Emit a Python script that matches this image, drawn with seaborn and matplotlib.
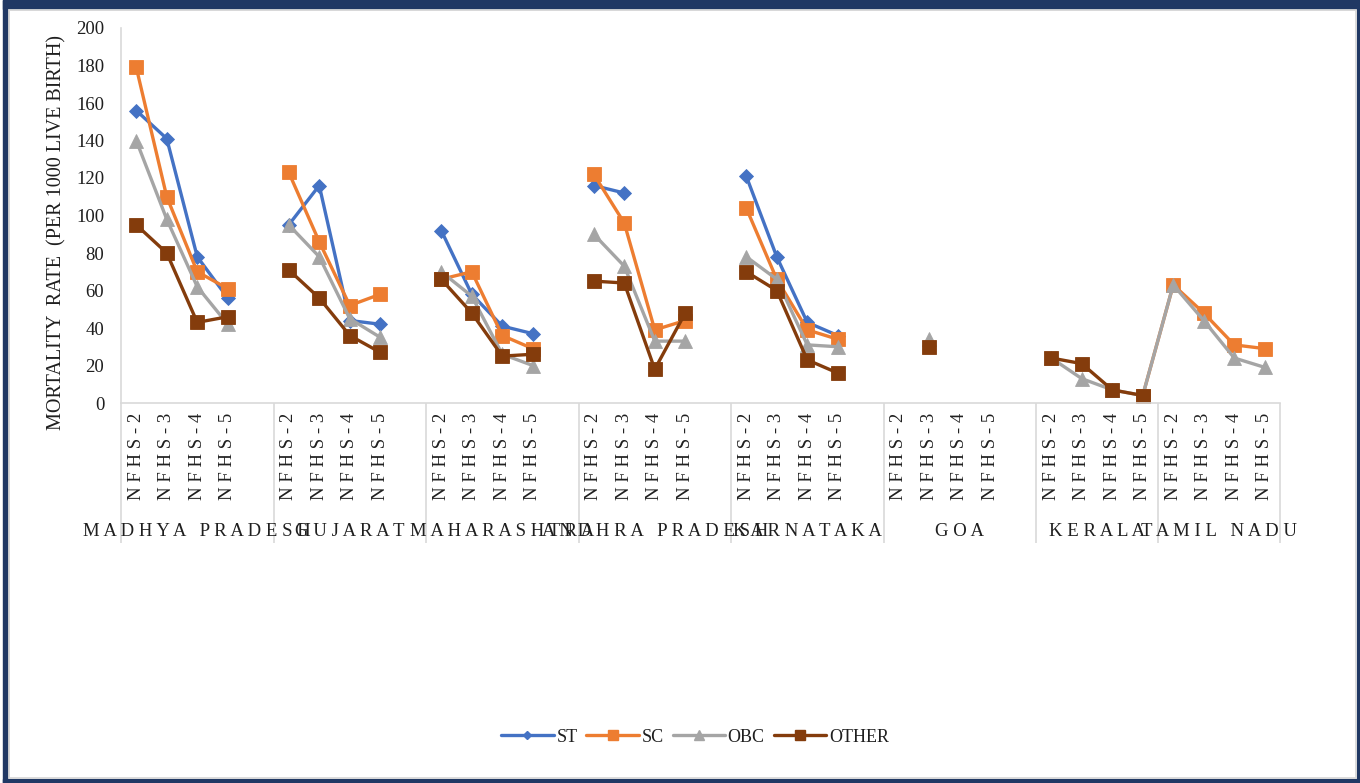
import numpy as np
import pandas as pd
import matplotlib
matplotlib.use("Agg")
import matplotlib.pyplot as plt
from matplotlib.lines import Line2D
from matplotlib.patches import Rectangle
import seaborn as sns

# ---- data -------------------------------------------------------------
states = ["MADHYA PRADESH", "GUJARAT", "MAHARASHTRA", "ANDHRA PRADESH",
          "KARNATAKA", "GOA", "KERALA", "TAMIL NADU"]
rounds = ["NFHS-2", "NFHS-3", "NFHS-4", "NFHS-5"]
nan = np.nan

# values per state, NFHS-2 .. NFHS-5 (per 1000 live births)
st = [156, 141, 78, 56,
      95, 116, 44, 42,
      92, 58, 41, 37,
      116, 112, nan, nan,
      121, 78, 43, 36,
      nan, nan, nan, nan,
      nan, nan, nan, nan,
      nan, nan, nan, nan]
sc = [179, 110, 70, 61,
      123, 86, 52, 58,
      66, 70, 36, 29,
      122, 96, 39, 44,
      104, 66, 39, 34,
      nan, nan, nan, nan,
      nan, nan, nan, 4,
      63, 48, 31, 29]
obc = [140, 98, 62, 42,
       95, 78, 45, 35,
       70, 57, 26, 20,
       90, 73, 33, 33,
       78, 66, 31, 30,
       nan, 34, nan, nan,
       24, 13, 7, 4,
       63, 44, 24, 19]
other = [95, 80, 43, 46,
         71, 56, 36, 27,
         66, 48, 25, 26,
         65, 64, 18, 48,
         70, 60, 23, 16,
         nan, 30, nan, nan,
         24, 21, 7, 4,
         nan, nan, nan, nan]

series_names = ["ST", "SC", "OBC", "OTHER"]
series_values = [st, sc, obc, other]

# ---- styling ----------------------------------------------------------
colors = {"ST": "#4472C4", "SC": "#ED7D31", "OBC": "#A5A5A5", "OTHER": "#843C0C"}
markers = {"ST": "D", "SC": "s", "OBC": "^", "OTHER": "s"}
msizes = {"ST": 6.8, "SC": 10.5, "OBC": 10.5, "OTHER": 10.5}
leg_msizes = {"ST": 4.5, "SC": 7, "OBC": 6.5, "OTHER": 7}
navy = "#203864"
grid_grey = "#D9D9D9"
text_col = "#1f1f1f"

sns.set_theme(style="white")
plt.rcParams["font.family"] = ["Liberation Serif", "DejaVu Serif"]

W, H = 1360, 783
fig = plt.figure(figsize=(W / 100, H / 100), dpi=100)
fig.patch.set_facecolor("white")


def px_rect(x, y_top, w, h, **kw):
    """Rectangle given in pixel units measured from the top-left corner."""
    return Rectangle((x / W, 1 - (y_top + h) / H), w / W, h / H,
                     transform=fig.transFigure, **kw)


# chart frame
for r in [px_rect(3, 0, 1357, 9, color=navy),
          px_rect(3, 0, 5, 783, color=navy),
          px_rect(1357, 0, 3, 783, color=navy),
          px_rect(3, 779, 1357, 4, color=navy)]:
    fig.patches.append(r)
fig.patches.append(px_rect(8.5, 9.5, 1347.5, 768.5, fill=False,
                           edgecolor=grid_grey, lw=1.3))

# ---- category slots: a blank slot follows each state except Kerala ----
spacer = [1, 1, 1, 1, 1, 1, 0, 0]
slots, groups = [], []
pos = 0
for i, s in enumerate(states):
    start = pos
    for r in rounds:
        slots.append(pos)
        pos += 1
    pos += spacer[i]
    groups.append((start, pos))
n_slots = pos

rows = []
for name, vals in zip(series_names, series_values):
    seg = 0
    prev_slot, prev_ok = None, False
    for k, (slot, v) in enumerate(zip(slots, vals)):
        ok = not np.isnan(v)
        if ok and not (prev_ok and prev_slot == slot - 1):
            seg += 1
        if ok:
            rows.append({"series": name, "slot": slot, "value": v, "seg": seg,
                         "state": states[k // 4], "round": rounds[k % 4]})
        prev_slot, prev_ok = slot, ok
df = pd.DataFrame(rows)

left, right, top, bottom = 121, 1280, 28, 403
ax = fig.add_axes([left / W, 1 - bottom / H, (right - left) / W, (bottom - top) / H])

for name in series_names:
    sub = df[df["series"] == name]
    sns.lineplot(data=sub, x="slot", y="value", units="seg", estimator=None,
                 color=colors[name], marker=markers[name], markersize=msizes[name],
                 markeredgecolor=colors[name], markeredgewidth=0.6,
                 linewidth=2.4, legend=False, ax=ax)

ax.set_xlim(-0.5, n_slots - 0.5)
ax.set_ylim(0, 200)
ax.set_yticks(np.arange(0, 201, 20))
ax.set_xlabel("")
ax.set_ylabel("")


def spaced(t):
    return " ".join(t)


ax.set_xticks(slots)
ax.set_xticklabels([spaced(r) for _ in states for r in rounds], rotation=90)
ax.tick_params(axis="x", length=0, pad=7, labelsize=13.5, labelcolor=text_col)
ax.tick_params(axis="y", length=0, pad=12, labelsize=13.5, labelcolor=text_col)

for side in ["top", "right"]:
    ax.spines[side].set_visible(False)
for side in ["left", "bottom"]:
    ax.spines[side].set_color(grid_grey)
    ax.spines[side].set_linewidth(1.2)

# multi-level category axis: separators and state names
xt = ax.get_xaxis_transform()
bounds = [-0.5] + [g[1] - 0.5 for g in groups]
ax.vlines(bounds, -0.373, 0, transform=xt, colors=grid_grey, lw=1.2, clip_on=False)
for s, (g0, g1) in zip(states, groups):
    ax.text((g0 + g1 - 1) / 2, -0.343, spaced(s), transform=xt, ha="center",
            va="center", fontsize=13.5, color=text_col)

fig.text(57 / W, 1 - 232 / H, "MORTALITY  RATE  (PER 1000 LIVE BIRTH)",
         rotation=90, ha="center", va="center", fontsize=14.5, color=text_col)

handles = [Line2D([], [], color=colors[n], lw=2.4, marker=markers[n],
                  markersize=leg_msizes[n], markeredgecolor=colors[n])
           for n in series_names]
fig.legend(handles, series_names, loc="center",
           bbox_to_anchor=(695 / W, 1 - 737 / H), ncol=4, frameon=False,
           handlelength=2.9, handletextpad=0.15, columnspacing=0.5,
           fontsize=13, labelcolor=text_col)

fig.savefig("out.png", dpi=100)
